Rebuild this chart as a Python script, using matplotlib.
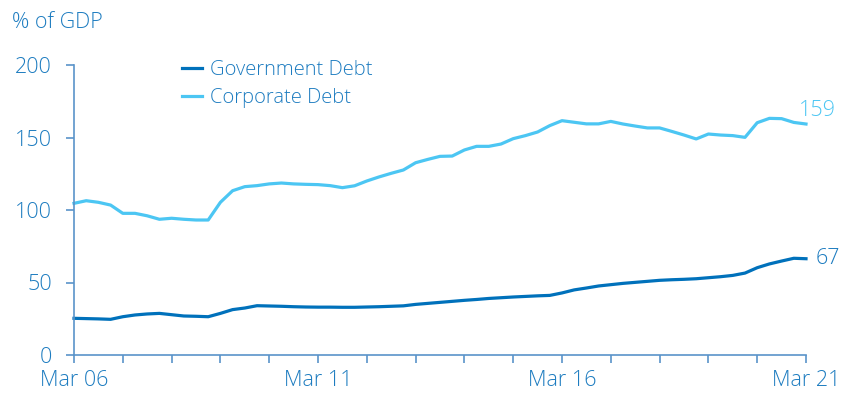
import matplotlib
matplotlib.use("Agg")
import matplotlib.pyplot as plt

# Quarterly observations, Mar 06 .. Mar 21 (61 quarters)
quarters = [f"{m} {y:02d}" for y in range(6, 22) for m in ["Mar", "Jun", "Sep", "Dec"]][:61]

corporate_debt = [
    104.6, 106.4, 105.3, 103.4, 97.7, 97.7, 96.0, 93.6, 94.3, 93.6,
    93.1, 93.1, 105.3, 113.3, 116.1, 116.8, 118.0, 118.6, 118.0, 117.7,
    117.5, 116.8, 115.4, 116.7, 120.0, 122.8, 125.3, 127.6, 132.6, 134.9,
    137.0, 137.2, 141.4, 143.9, 143.9, 145.5, 149.2, 151.3, 153.8, 158.2,
    161.6, 160.5, 159.4, 159.4, 161.1, 159.3, 157.9, 156.6, 156.6, 154.2,
    151.7, 149.0, 152.4, 151.7, 151.3, 150.1, 160.2, 163.2, 163.0, 160.4,
    159.3,
]

government_debt = [
    25.3, 25.1, 24.9, 24.6, 26.4, 27.6, 28.3, 28.7, 27.8, 26.9,
    26.7, 26.4, 28.7, 31.3, 32.4, 34.0, 33.8, 33.6, 33.3, 33.1,
    33.0, 33.0, 32.9, 32.9, 33.1, 33.3, 33.6, 33.9, 34.9, 35.6,
    36.3, 37.0, 37.7, 38.3, 39.0, 39.5, 40.0, 40.4, 40.8, 41.1,
    42.8, 44.9, 46.2, 47.6, 48.5, 49.4, 50.1, 50.8, 51.5, 51.9,
    52.2, 52.6, 53.3, 54.0, 54.9, 56.5, 60.2, 62.8, 64.8, 66.7,
    66.4,
]

end_labels = ["159", "67"]
y_ticks = [0, 50, 100, 150, 200]
x_tick_labels = ["Mar 06", "", "", "", "", "Mar 11", "", "", "", "", "Mar 16", "", "", "", "", "Mar 21"]

dark_blue = "#0071bb"
light_blue = "#4cc6f3"
text_blue = "#1d7cc0"
axis_blue = "#5a93c9"

plt.rcParams["font.family"] = ["Open Sans", "DejaVu Sans"]
plt.rcParams["font.weight"] = "light"
fs = 15.5

fig = plt.figure(figsize=(8.45, 3.96), dpi=100)
ax = fig.add_axes([74 / 845, 41 / 396, 732 / 845, 290 / 396])

x = list(range(len(quarters)))
ax.plot(x, government_debt, color=dark_blue, lw=2.3, label="Government Debt",
        solid_joinstyle="round", clip_on=False)
ax.plot(x, corporate_debt, color=light_blue, lw=2.3, label="Corporate Debt",
        solid_joinstyle="round", clip_on=False)

ax.set_xlim(0, len(quarters) - 1)
ax.set_ylim(0, 200)

for s in ["top", "right"]:
    ax.spines[s].set_visible(False)
for s in ["left", "bottom"]:
    ax.spines[s].set_color(axis_blue)
    ax.spines[s].set_linewidth(1.2)

ax.set_yticks(y_ticks)
ax.set_xticks(range(0, len(quarters), 4))
ax.set_xticklabels(x_tick_labels)
ax.tick_params(axis="y", length=6, width=1.2, color=axis_blue, labelcolor=text_blue,
               labelsize=fs, pad=10)
ax.tick_params(axis="x", length=6, width=1.2, color=axis_blue, labelcolor=text_blue,
               labelsize=fs, pad=5)

fig.text(12 / 845, 1 - 23 / 396, "% of GDP", color=text_blue, fontsize=fs,
         ha="left", va="center")

# end-of-series labels
ax.annotate(end_labels[0], (x[-1], corporate_debt[-1]), xytext=(-5, 10),
            textcoords="offset points", color=light_blue, fontsize=fs,
            ha="left", va="center", annotation_clip=False)
ax.annotate(end_labels[1], (x[-1], government_debt[-1]), xytext=(7, 0),
            textcoords="offset points", color=text_blue, fontsize=fs,
            ha="left", va="center", annotation_clip=False)

leg = ax.legend(loc="upper left", bbox_to_anchor=(100 / 732, 1.045), frameon=False,
                fontsize=14.5, handlelength=1.0, handletextpad=0.4, labelspacing=0.4,
                borderaxespad=0)
for t in leg.get_texts():
    t.set_color(text_blue)

fig.savefig("out.png", dpi=100)
